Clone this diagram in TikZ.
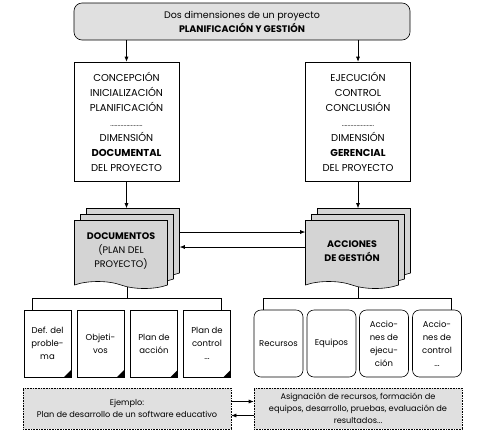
\documentclass[tikz,border=0pt]{standalone}
\usepackage{fontspec}
\setmainfont{Poppins}
\usetikzlibrary{arrows.meta,shapes.symbols,shadows,backgrounds}
\definecolor{grisA}{gray}{0.88}
\definecolor{grisB}{gray}{0.83}
\tikzset{
  flecha/.style={-{Latex[length=5pt,width=4pt]}},
  caja/.style={draw, align=center, inner sep=1pt},
  fase/.style={caja, minimum width=105pt, minimum height=119pt, font=\fontsize{10}{15}\selectfont},
  pila/.style={tape, tape bend top=none, tape bend bottom=out and in, tape bend height=7pt,
    draw, fill=grisB, align=center, minimum width=93pt, minimum height=68pt, inner sep=1pt,
    font=\fontsize{9.5}{14}\selectfont,
    copy shadow={shadow xshift=12pt, shadow yshift=12pt, fill=grisB, draw},
    copy shadow={shadow xshift=6pt, shadow yshift=6pt, fill=grisB, draw}},
  hojita/.style={caja, minimum width=47pt, minimum height=67pt, font=\fontsize{8.5}{13}\selectfont,
    path picture={\fill (path picture bounding box.south east) -- ++(-7pt,0pt) -- ++(7pt,7pt) -- cycle;}},
  tarjeta/.style={caja, rounded corners=7pt, minimum width=49pt, minimum height=67pt, font=\fontsize{8.5}{13}\selectfont},
  ejemplo/.style={draw, densely dotted, fill=grisA, align=center, minimum width=208pt, minimum height=41pt,
    inner sep=1pt, font=\fontsize{8.2}{12}\selectfont}
}
\begin{document}
\begin{tikzpicture}[x=1pt, y=-1pt, line width=0.6pt]
\useasboundingbox (0,0) rectangle (481,432);
% cabecera
\node[caja, rounded corners=8pt, fill=grisA, minimum width=336pt, minimum height=37pt,
  font=\fontsize{9.5}{14}\selectfont] (dim) at (242,21.5)
  {Dos dimensiones de un proyecto\\\textbf{PLANIFICACIÓN Y GESTIÓN}};
% dimensiones
\node[fase] (faseL) at (126.5,121.5) {CONCEPCIÓN\\INICIALIZACIÓN\\PLANIFICACIÓN\\{\scriptsize ......................}\\DIMENSIÓN\\\textbf{DOCUMENTAL}\\DEL PROYECTO};
\node[fase] (faseR) at (358,121.5) {EJECUCIÓN\\CONTROL\\CONCLUSIÓN\\{\scriptsize ......................}\\DIMENSIÓN\\\textbf{GERENCIAL}\\DEL PROYECTO};
\draw[flecha] (dim.south -| faseL) -- (faseL);
\draw[flecha] (dim.south -| faseR) -- (faseR);
% pilas de documentos
\node[pila] (docsL) at (121,251) {\textbf{DOCUMENTOS}\\(PLAN DEL\\PROYECTO)};
\node[pila] (docsR) at (352,251) {\textbf{ACCIONES}\\\textbf{DE GESTIÓN}};
\coordinate (topeL) at ([yshift=12pt]docsL.north);
\coordinate (topeR) at ([yshift=12pt]docsR.north);
\draw[flecha] (faseL) -- (faseL |- topeL);
\draw[flecha] (faseR) -- (faseR |- topeR);
\draw[flecha] ([xshift=12pt,yshift=19pt]docsL.east) -- ([yshift=19pt]docsR.west);
\draw[flecha] ([yshift=4pt]docsR.west) -- ([xshift=12pt,yshift=4pt]docsL.east);
% tarjetas
\foreach \n/\x/\t in {1/47.5/{Def. del\\proble-\\ma}, 2/100.5/{Objeti-\\vos}, 3/154/{Plan de\\acción}, 4/207/{Plan de\\control\\...}}
  \node[hojita] (cL\n) at (\x,343.5) {\t};
\foreach \n/\x/\t in {1/278.5/{Recursos}, 2/331.5/{Equipos}, 3/384/{Accio-\\nes de\\ejecu-\\ción}, 4/437/{Accio-\\nes de\\control\\...}}
  \node[tarjeta] (cR\n) at (\x,343.5) {\t};
\coordinate (busL) at ([yshift=11pt]cL1.north);
\coordinate (busR) at ([yshift=11pt]cR1.north);
\begin{scope}[on background layer]
\draw ([xshift=6pt]docsL.center) -- ([xshift=6pt]docsL.center |- busL);
\draw ([xshift=6pt]docsR.center) -- ([xshift=6pt]docsR.center |- busR);
\end{scope}
\draw ([xshift=9pt]cL1.north west) |- (busL) -| ([xshift=-10pt]cL4.north east);
\draw ([xshift=10pt]cR1.north west) |- (busR) -| ([xshift=-11pt]cR4.north east);
% ejemplo
\node[ejemplo] (ejL) at (127,408.5) {\\[-6pt]Ejemplo:\\Plan de desarrollo de un software educativo};
\node[ejemplo] (ejR) at (358,408.5) {Asignación de recursos, formación de\\equipos, desarrollo, pruebas, evaluación de\\resultados...};
\draw[flecha] ([yshift=7pt]ejL.east) -- ([yshift=7pt]ejR.west);
\draw[flecha] ([yshift=-7pt]ejR.west) -- ([yshift=-7pt]ejL.east);
\end{tikzpicture}
\end{document}
